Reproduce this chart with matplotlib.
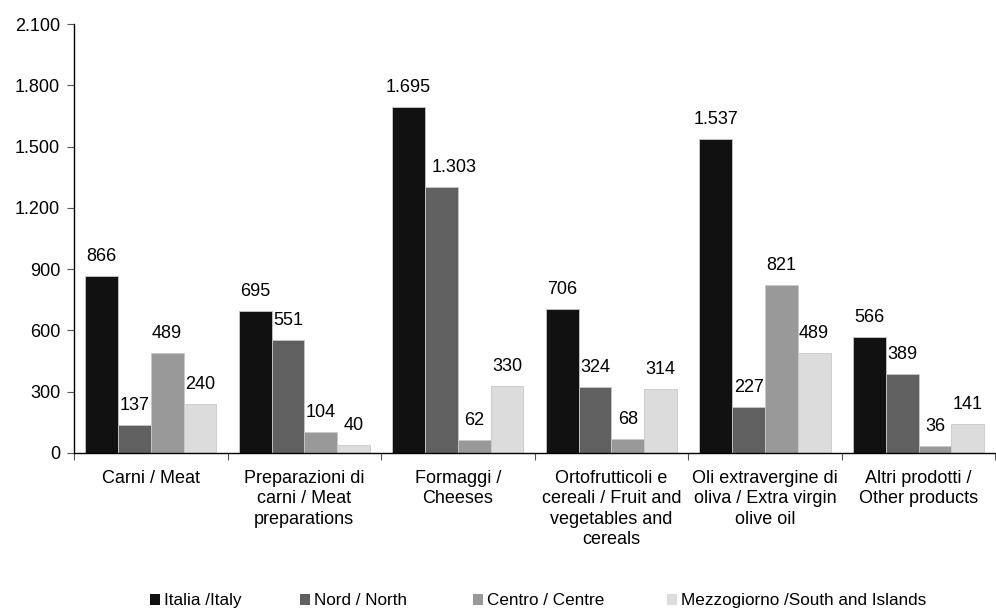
import matplotlib
matplotlib.use("Agg")
import matplotlib.pyplot as plt
import numpy as np
from matplotlib.patches import Patch
from matplotlib.ticker import FuncFormatter

plt.rcParams["font.family"] = ["Liberation Sans", "DejaVu Sans"]

categories = [
    "Carni / Meat",
    "Preparazioni di\ncarni / Meat\npreparations",
    "Formaggi /\nCheeses",
    "Ortofrutticoli e\ncereali / Fruit and\nvegetables and\ncereals",
    "Oli extravergine di\noliva / Extra virgin\nolive oil",
    "Altri prodotti /\nOther products",
]
series_names = ["Italia /Italy", "Nord / North", "Centro / Centre", "Mezzogiorno /South and Islands"]
italia = [866, 695, 1695, 706, 1537, 566]
nord = [137, 551, 1303, 324, 227, 389]
centro = [489, 104, 62, 68, 821, 36]
mezzogiorno = [240, 40, 330, 314, 489, 141]
colors = ["#111111", "#606060", "#999999", "#dcdcdc"]
legend_x = [0.1506, 0.3012, 0.4749, 0.6697]


def it_fmt(v):
    return f"{int(v):,}".replace(",", ".")


fig = plt.figure(figsize=(9.96, 6.08), dpi=100)
ax = fig.add_axes([0.0743, 0.255, 0.925, 0.7055])

x = np.arange(len(categories))
width = 0.2136
series = [italia, nord, centro, mezzogiorno]
for i, vals in enumerate(series):
    pos = x + (i - 1.5) * width
    ax.bar(pos, vals, width, color=colors[i], edgecolor="#c8c8c8", linewidth=0.6)
    for p, v in zip(pos, vals):
        # wide Nord label nudged right so it clears the Italia bar
        dx = 9 if (i == 1 and v >= 1000) else 0
        ax.annotate(it_fmt(v), (p, v), xytext=(dx, 14), textcoords="offset points",
                    ha="center", va="center", fontsize=13)

ax.set_xlim(-0.5, len(categories) - 0.5)
ax.set_ylim(0, 2100)
ax.set_yticks(range(0, 2101, 300))
ax.yaxis.set_major_formatter(FuncFormatter(lambda v, _: it_fmt(v)))
ax.tick_params(axis="y", labelsize=13, length=5, width=0.8, color="#555555", pad=5)

ax.set_xticks(np.arange(len(categories) + 1) - 0.5)
ax.set_xticklabels([])
ax.set_xticks(x, minor=True)
ax.set_xticklabels(categories, minor=True, fontsize=13, linespacing=1.27)
ax.tick_params(axis="x", which="major", length=5, width=0.8, color="#555555")
ax.tick_params(axis="x", which="minor", length=0, pad=12)

for s in ["top", "right"]:
    ax.spines[s].set_visible(False)
for s in ["left", "bottom"]:
    ax.spines[s].set_linewidth(1.0)

for c, name, lx in zip(colors, series_names, legend_x):
    fig.legend([Patch(facecolor=c, edgecolor="none")], [name], loc="center left",
               bbox_to_anchor=(lx, 0.012), frameon=False, fontsize=12.3,
               handlelength=0.6, handleheight=0.6, handletextpad=0.2,
               borderpad=0, borderaxespad=0)

fig.savefig("out.png", dpi=100)
